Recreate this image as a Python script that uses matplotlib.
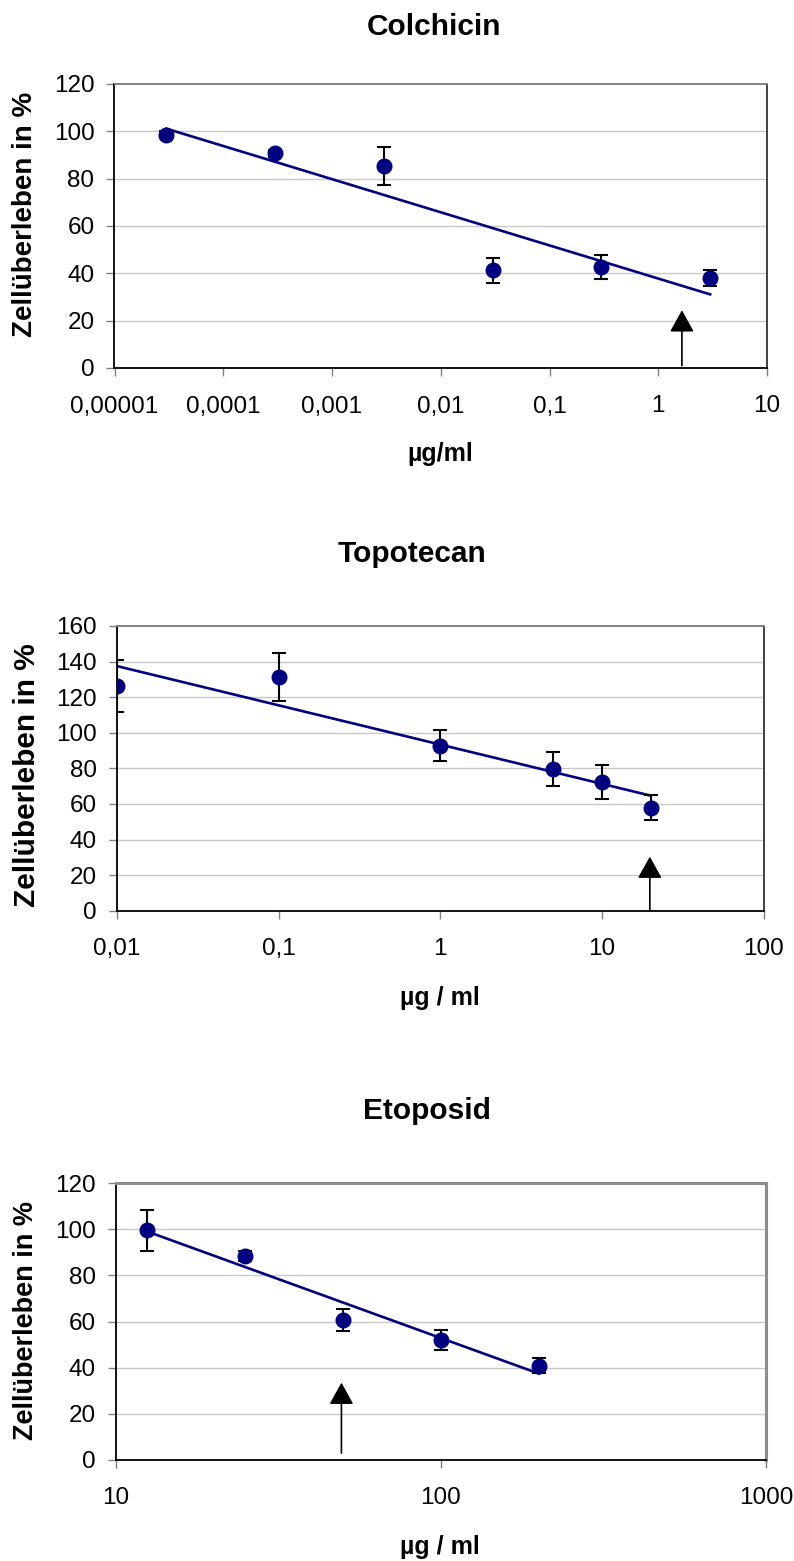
import numpy as np
import matplotlib
matplotlib.use("Agg")
import matplotlib.pyplot as plt
from matplotlib.patches import FancyArrowPatch

plt.rcParams['font.family'] = ['Liberation Sans', 'DejaVu Sans']

# ---------------- data ----------------
colch_x = [3e-5, 3e-4, 3e-3, 3e-2, 3e-1, 3]
colch_y = [98.5, 90.7, 85.4, 41.3, 42.7, 38.1]
colch_err = [1.5, 1.5, 8.0, 5.3, 5.2, 3.5]
colch_arrow = [1.65, 1.0, 24.4]
colch_xticks = [1e-5, 1e-4, 1e-3, 1e-2, 1e-1, 1, 10]
colch_xticklabels = ["0,00001", "0,0001", "0,001", "0,01", "0,1", "1", "10"]
colch_yticks = [0, 20, 40, 60, 80, 100, 120]

topo_x = [0.01, 0.1, 1, 5, 10, 20]
topo_y = [126.3, 131.3, 92.7, 79.6, 72.3, 57.9]
topo_err = [14.6, 13.6, 8.8, 9.5, 9.8, 7.1]
topo_arrow = [19.7, 0.0, 30.4]
topo_xticks = [0.01, 0.1, 1, 10, 100]
topo_xticklabels = ["0,01", "0,1", "1", "10", "100"]
topo_yticks = [0, 20, 40, 60, 80, 100, 120, 140, 160]

eto_x = [12.5, 25, 50, 100, 200]
eto_y = [99.5, 88.4, 60.6, 51.9, 40.8]
eto_err = [8.9, 2.3, 4.8, 4.3, 3.2]
eto_arrow = [49.5, 3.0, 33.5]
eto_xticks = [10, 100, 1000]
eto_xticklabels = ["10", "100", "1000"]
eto_yticks = [0, 20, 40, 60, 80, 100, 120]

titles = ["Colchicin", "Topotecan", "Etoposid"]
xlabels = ["µg/ml", "µg / ml", "µg / ml"]
ylabel = "Zellüberleben in %"

# ---------------- layout ----------------
W, H = 794, 1561
DPI = 100
fig = plt.figure(figsize=(W / DPI, H / DPI), dpi=DPI)

NAVY = '#000080'


def px_axes(l, r, t, b):
    return fig.add_axes([l / W, 1 - b / H, (r - l) / W, (b - t) / H])


def panel(box, xs, ys, errs, arrow, xticks, xticklabels, yticks, xlim,
          frame_color, frame_lw, right_color):
    ax = px_axes(*box)
    ax.set_xscale('log')
    ax.set_xlim(*xlim)
    ax.set_ylim(yticks[0], yticks[-1])
    ax.set_yticks(yticks)
    ax.set_yticklabels([str(v) for v in yticks])
    ax.set_xticks(xticks)
    ax.set_xticklabels(xticklabels)
    ax.xaxis.set_minor_locator(matplotlib.ticker.NullLocator())
    ax.tick_params(axis='both', which='major', labelsize=17.5, colors='#808080',
                   labelcolor='black', width=1.0, length=5.8, direction='out')
    ax.tick_params(axis='x', pad=14.0)
    ax.tick_params(axis='y', pad=8.6)
    for v in yticks[1:-1]:
        ax.axhline(v, color='#c8c8c8', lw=1.0, zorder=0)
    ax.spines['left'].set_color('black')
    ax.spines['bottom'].set_color('black')
    ax.spines['left'].set_linewidth(1.3)
    ax.spines['bottom'].set_linewidth(1.3)
    ax.spines['top'].set_color(frame_color)
    ax.spines['top'].set_linewidth(frame_lw)
    ax.spines['right'].set_color(right_color)
    ax.spines['right'].set_linewidth(frame_lw)

    # trendline (logarithmic fit as in the original)
    lx = np.log10(xs)
    k, d = np.polyfit(lx, ys, 1)
    xx = np.array([min(xs), max(xs)])
    ax.plot(xx, k * np.log10(xx) + d, color=NAVY, lw=1.9, zorder=3)

    ax.errorbar(xs, ys, yerr=errs, fmt='o', color=NAVY, ms=10.5, mec=NAVY,
                ecolor='black', elinewidth=1.5, capsize=5, capthick=1.5,
                zorder=4)

    arr = FancyArrowPatch((arrow[0], arrow[1]), (arrow[0], arrow[2]),
                          arrowstyle='-|>,head_length=1.35,head_width=0.75',
                          mutation_scale=10, color='black', lw=1.2,
                          shrinkA=0, shrinkB=0, zorder=5)
    ax.add_patch(arr)
    return ax


panel((114.5, 767, 84, 368), colch_x, colch_y, colch_err, colch_arrow,
      colch_xticks, colch_xticklabels, colch_yticks, (1e-5, 10),
      '#808080', 1.4, '#404040')
panel((116.7, 764, 626, 910.7), topo_x, topo_y, topo_err, topo_arrow,
      topo_xticks, topo_xticklabels, topo_yticks, (0.01, 100),
      '#808080', 1.4, '#404040')
panel((115.5, 766, 1183, 1460), eto_x, eto_y, eto_err, eto_arrow,
      eto_xticks, eto_xticklabels, eto_yticks, (10, 1000),
      '#8c8c8c', 2.2, '#8c8c8c')

# titles
title_pos = [(434, 35), (412, 562), (427, 1119)]
for t, (x, y) in zip(titles, title_pos):
    fig.text(x / W, 1 - y / H, t, fontsize=21.5, fontweight='bold',
             ha='center', va='baseline')

# x labels
xlabel_pos = [(440, 461), (440, 1005), (440, 1554)]
for t, (x, y) in zip(xlabels, xlabel_pos):
    fig.text(x / W, 1 - y / H, t, fontsize=18, fontweight='bold',
             ha='center', va='baseline')

# y labels
ylabel_pos = [(25, 214, 20), (27, 775, 21.5), (26, 1320, 19.5)]
for x, y, fs in ylabel_pos:
    fig.text(x / W, 1 - y / H, ylabel, fontsize=fs, fontweight='bold',
             ha='center', va='center', rotation=90)

fig.savefig('out.png', dpi=DPI)
